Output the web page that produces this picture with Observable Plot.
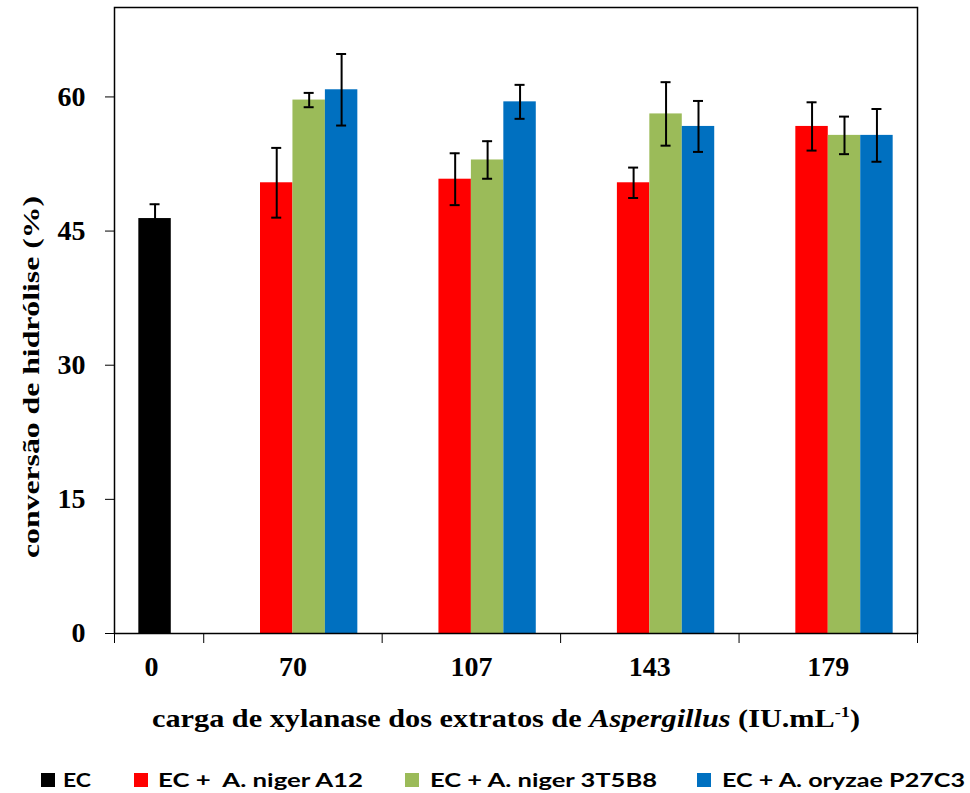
<!DOCTYPE html>
<html><head><meta charset="utf-8">
<script src="https://cdn.jsdelivr.net/npm/d3@7"></script>
<script src="https://cdn.jsdelivr.net/npm/@observablehq/plot@0.6"></script>
<style>body{margin:0;background:#fff}</style>
</head><body><div id="chart"></div>
<script>
const categories = ["0", "70", "107", "143", "179"];
const seriesNames = ["EC", "EC +  A. niger A12", "EC + A. niger 3T5B8", "EC + A. oryzae P27C3"];
const seriesColors = ["#000000", "#FF0000", "#9BBB59", "#0070C0"];
const ecValues   = [46.4, null, null, null, null];
const ecErrors   = [1.6, null, null, null, null];
const a12Values  = [null, 50.4, 50.8, 50.4, 56.7];
const a12Errors  = [null, 3.9, 2.9, 1.7, 2.7];
const t5b8Values = [null, 59.65, 52.95, 58.1, 55.7];
const t5b8Errors = [null, 0.8, 2.1, 3.55, 2.1];
const p27Values  = [null, 60.8, 59.45, 56.7, 55.7];
const p27Errors  = [null, 4.0, 1.9, 2.85, 2.95];
const yTicks = [0, 15, 30, 45, 60];
const yLabel = "conversão de hidrólise (%)";

const seriesValues = [ecValues, a12Values, t5b8Values, p27Values];
const seriesErrors = [ecErrors, a12Errors, t5b8Errors, p27Errors];

// Excel-like clustered layout: gap width 150%; first category occupies a half band
const nS = seriesNames.length;
const slot = 1 / (nS + 1.5);
const bandStart = ci => ci === 0 ? 0 : ci - 0.5;
const rows = [];
seriesNames.forEach((s, si) => {
  categories.forEach((c, ci) => {
    const v = seriesValues[si][ci];
    if (v == null) return;
    const x1 = bandStart(ci) + (0.75 + si) * slot;
    rows.push({cat: c, series: s, value: v, err: seriesErrors[si][ci], x1, x2: x1 + slot, xc: x1 + slot / 2});
  });
});
const bounds = [0, ...categories.slice(1).map((_, i) => i + 0.5), categories.length - 0.5];
const labelRows = categories.map((c, ci) => ({
  label: c,
  x: ci === 0 ? rows.find(r => r.cat === c).xc - 0.02 : ci
}));

const serif = "'Liberation Serif', 'Times New Roman', serif";
const chart = Plot.plot({
  width: 970, height: 793,
  marginLeft: 114, marginRight: 53, marginTop: 7, marginBottom: 160,
  style: {fontFamily: serif, fontSize: "28px", fontWeight: "bold", color: "#000", background: "#fff"},
  x: {domain: [0, categories.length - 0.5], ticks: bounds, tickFormat: () => "", tickSize: 10, label: null},
  y: {domain: [0, 70], ticks: yTicks, tickSize: 9, tickPadding: 20, label: null},
  color: {domain: seriesNames, range: seriesColors},
  marks: [
    Plot.rectY(rows, {x1: "x1", x2: "x2", y: "value", fill: "series"}),
    Plot.ruleX(rows, {x: "xc", y1: d => d.value - d.err, y2: d => d.value + d.err, stroke: "black", strokeWidth: 2}),
    Plot.ruleY(rows, {y: d => d.value + d.err, x1: "xc", x2: "xc", insetLeft: -5, insetRight: -5, stroke: "black", strokeWidth: 2}),
    Plot.ruleY(rows, {y: d => d.value - d.err, x1: "xc", x2: "xc", insetLeft: -5, insetRight: -5, stroke: "black", strokeWidth: 2}),
    Plot.text(labelRows, {x: "x", text: "label", frameAnchor: "bottom", lineAnchor: "middle", dy: 34, fontSize: 28, fontWeight: "bold", fill: "black"}),
    Plot.frame({stroke: "black", strokeWidth: 1.5})
  ]
});
document.getElementById("chart").appendChild(chart);

const svg = d3.select(chart);
// y-axis title
svg.append("text")
  .attr("transform", "translate(31,377) rotate(-90)")
  .attr("text-anchor", "middle").attr("dy", "0.35em")
  .attr("font-family", serif).attr("font-weight", "bold").attr("font-size", 23)
  .attr("textLength", 362).attr("lengthAdjust", "spacingAndGlyphs")
  .text(yLabel);
// x-axis title
const xt = svg.append("text")
  .attr("x", 506).attr("y", 727).attr("text-anchor", "middle")
  .attr("font-family", serif).attr("font-weight", "bold").attr("font-size", 25)
  .attr("textLength", 708).attr("lengthAdjust", "spacingAndGlyphs")
  .style("white-space", "pre");
xt.append("tspan").text("carga de xylanase dos extratos de ");
xt.append("tspan").attr("font-style", "italic").text("Aspergillus");
xt.append("tspan").text(" (IU.mL");
xt.append("tspan").attr("font-size", 15).attr("dy", -10).text("-1");
xt.append("tspan").attr("dy", 10).text(")");
// legend
const legendLayout = [
  {sx: 41, tx: 63, tw: 28},
  {sx: 134, tx: 158, tw: 205},
  {sx: 405, tx: 430, tw: 227},
  {sx: 697, tx: 722, tw: 243}
];
seriesNames.forEach((s, i) => {
  const L = legendLayout[i];
  svg.append("rect").attr("x", L.sx).attr("y", 773).attr("width", 14).attr("height", 14).attr("fill", seriesColors[i]);
  svg.append("text").attr("x", L.tx).attr("y", 787).attr("text-anchor", "start")
    .attr("font-family", "Lato, 'Open Sans', sans-serif").attr("font-weight", "bold").attr("font-size", 19)
    .attr("textLength", L.tw).attr("lengthAdjust", "spacingAndGlyphs")
    .style("white-space", "pre").attr("fill", "#000")
    .text(s);
});
</script>
</body></html>
